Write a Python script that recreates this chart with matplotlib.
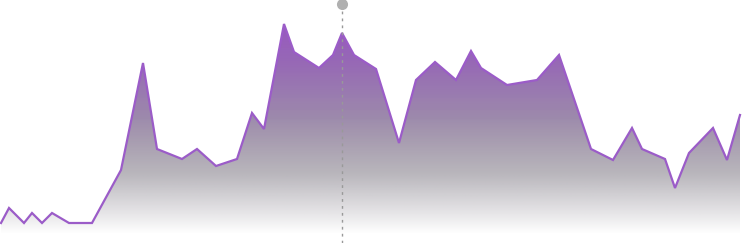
import numpy as np
import matplotlib.pyplot as plt
from matplotlib.patches import Polygon

# x positions and values (value = height above baseline)
xs = [1, 9, 24, 32, 42, 52, 69, 92, 121, 143, 157, 182, 197, 216, 237, 252, 264,
      284, 294, 319, 333, 342, 354, 376, 399, 416, 435, 456, 471, 481, 507, 537,
      559, 591, 613, 632, 642, 665, 675, 689, 713, 727, 740]
ys_px = [223, 208, 223, 213, 223, 213, 223, 223, 170, 63, 149, 159, 149, 166, 159, 113, 129,
         24, 52, 68, 55, 33, 55, 69, 143, 80, 62, 80, 51, 68, 85, 80,
         55, 149, 160, 128, 149, 159, 188, 153, 128, 160, 115]
base = 228
vals = [base - v for v in ys_px]
marker_x = 342
floor = -6

fig = plt.figure(figsize=(7.42, 2.43), dpi=100)
ax = fig.add_axes([0, 0, 1, 1])
ax.set_xlim(0, 742)
ax.set_ylim(-15, 228)
ax.axis('off')

# gradient fill clipped to the area under the line
top = max(vals)
n = 256
t = np.linspace(0, 1, n)  # 0 at top, 1 at bottom
stops = [0, 0.18, 0.47, 0.72, 1.0]
r = np.interp(t, stops, [152, 149, 154, 140, 140]) / 255
g = np.interp(t, stops, [88, 102, 136, 135, 135]) / 255
b = np.interp(t, stops, [192, 181, 168, 145, 145]) / 255
a = np.interp(t, [0, 0.45, 0.72, 0.91, 1.0], [1, 0.97, 0.6, 0.2, 0.0])
img = np.stack([r, g, b, a], axis=1)[:, None, :].repeat(2, axis=1)
im = ax.imshow(img, extent=[0, 742, floor, top], aspect='auto', origin='upper',
               zorder=1, interpolation='bilinear')
poly = Polygon(list(zip(xs, vals)) + [(xs[-1], floor), (xs[0], floor)], closed=True,
               facecolor='none', edgecolor='none')
ax.add_patch(poly)
im.set_clip_path(poly)

ax.plot(xs, vals, color='#9b5cc8', lw=1.6, zorder=3, solid_joinstyle='miter')

ax.plot([marker_x, marker_x], [-15, 218], color='#999999', lw=1, ls=(0, (2, 3)), zorder=4)
ax.plot([marker_x], [224], 'o', color='#b0b0b0', ms=8, mec='none', clip_on=False, zorder=5)

fig.savefig('out.png', dpi=100)
